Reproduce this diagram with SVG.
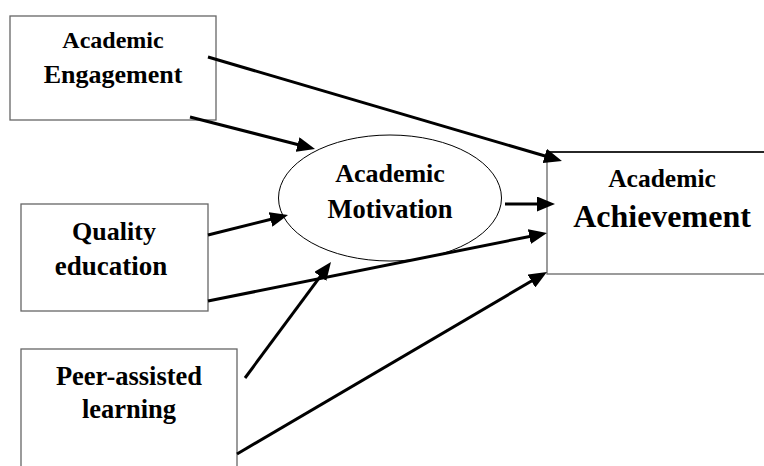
<svg xmlns="http://www.w3.org/2000/svg" width="764" height="466" viewBox="0 0 764 466">
<style>
.box{fill:#fff;stroke:#666;stroke-width:1.3}
.ell{fill:#fff;stroke:#000;stroke-width:1}
.t{font-family:"Liberation Serif","Times New Roman",serif;font-weight:bold;fill:#000;text-anchor:middle}
.c{stroke:#000;stroke-width:3;fill:none;marker-end:url(#ah)}
</style>
<defs>
<marker id="ah" markerUnits="userSpaceOnUse" markerWidth="18" markerHeight="15" refX="12" refY="7.5" orient="auto">
<path d="M0,0 L18,7.5 L0,15 z" fill="#000"/>
</marker>
</defs>
<rect width="764" height="466" fill="#fff"/>
<g id="engagement">
<rect class="box" x="10" y="16" width="206" height="104"/>
<text class="t" x="113" y="48" font-size="24">Academic</text>
<text class="t" x="113" y="83" font-size="26">Engagement</text>
</g>
<g id="quality">
<rect class="box" x="21" y="204" width="187" height="107"/>
<text class="t" x="114" y="240" font-size="26">Quality</text>
<text class="t" x="111" y="275" font-size="27">education</text>
</g>
<g id="peer">
<rect class="box" x="21" y="349" width="216" height="130"/>
<text class="t" x="129" y="385" font-size="26.5">Peer-assisted</text>
<text class="t" x="129" y="418" font-size="26.5">learning</text>
</g>
<g id="motivation">
<ellipse class="ell" cx="390" cy="198" rx="111.5" ry="63"/>
<text class="t" x="390" y="182" font-size="26">Academic</text>
<text class="t" x="390" y="218" font-size="26.5">Motivation</text>
</g>
<g id="achievement">
<rect class="box" x="547" y="152" width="230" height="122"/>
<line x1="547" y1="152" x2="764" y2="152" stroke="#000" stroke-width="1.3"/>
<text class="t" x="662" y="187" font-size="25.5">Academic</text>
<text class="t" x="662" y="227" font-size="32">Achievement</text>
</g>
<g id="connectors">
<line class="c" x1="208" y1="57" x2="556.2" y2="159.3"/>
<line class="c" x1="190" y1="117" x2="309.2" y2="147.5"/>
<line class="c" x1="208" y1="235" x2="282.2" y2="216.5"/>
<line class="c" x1="208" y1="301" x2="541.1" y2="234.2"/>
<line class="c" x1="505" y1="204" x2="549" y2="204"/>
<line class="c" x1="245" y1="378" x2="327.4" y2="266.8"/>
<line class="c" x1="237" y1="454" x2="541.8" y2="275"/>
</g>
</svg>
